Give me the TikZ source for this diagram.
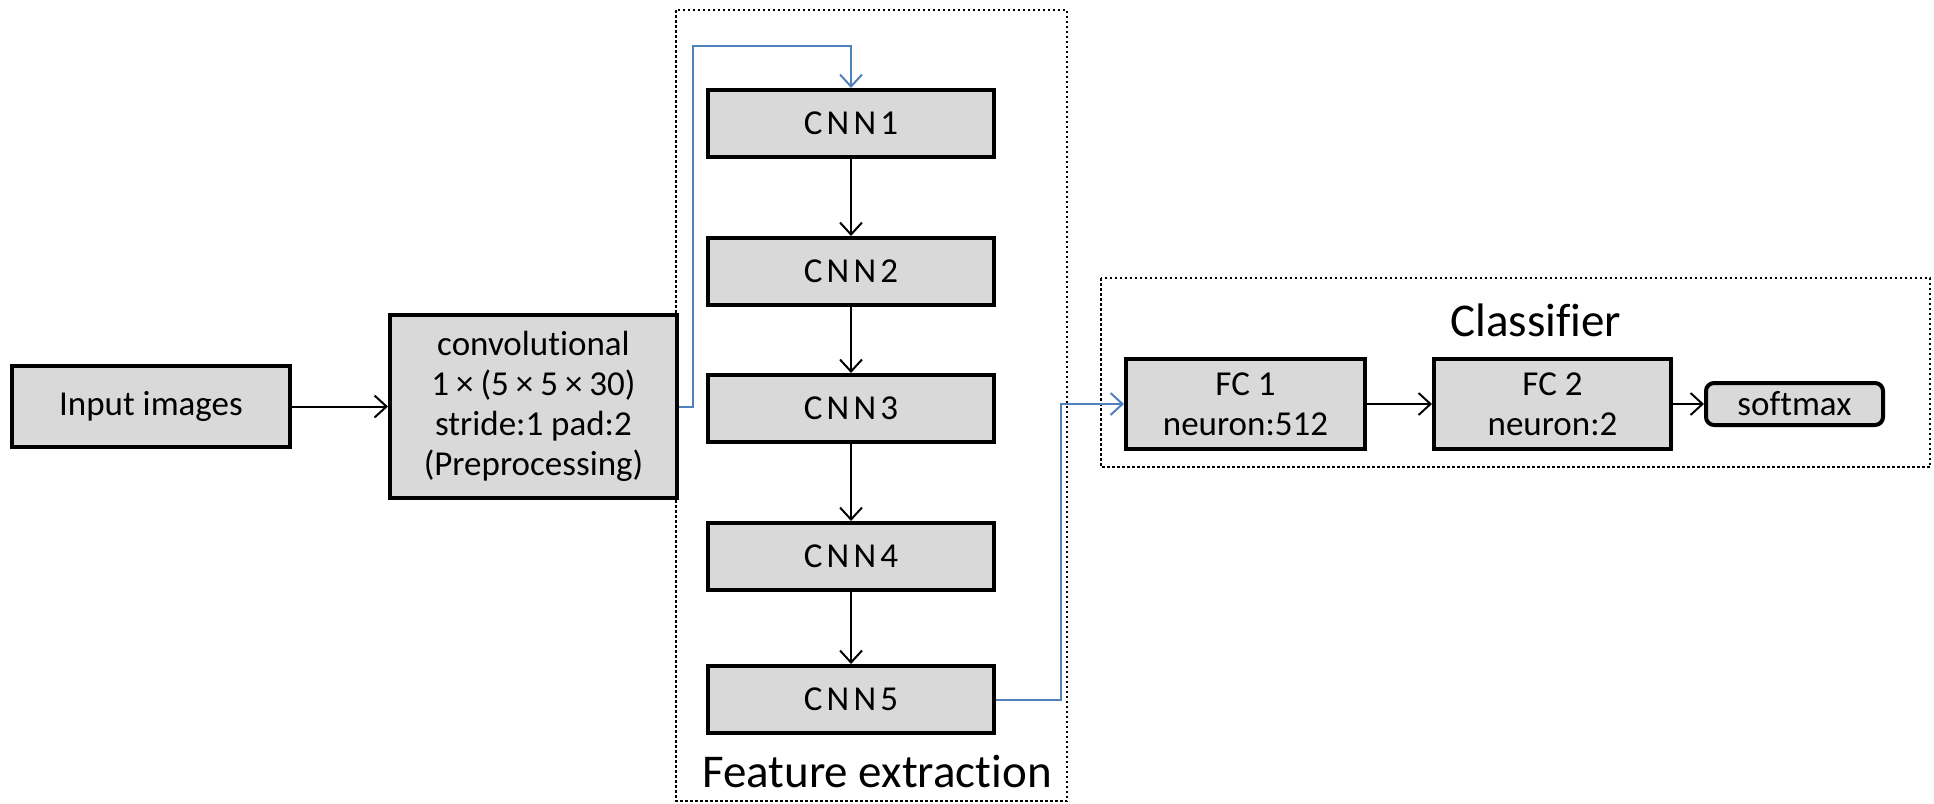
\documentclass[tikz,border=0pt]{standalone}
\usepackage{fontspec}
\setmainfont[Ligatures=NoCommon]{Carlito}
\usetikzlibrary{arrows.meta}
\definecolor{boxgray}{HTML}{D9D9D9}
\definecolor{linkblue}{HTML}{4F81BD}
\newcommand{\tms}{\hspace{7pt}×\hspace{7pt}}
\tikzset{
  blk/.style={draw=black, fill=boxgray, line width=4pt, inner sep=0pt, font=\fontsize{35}{40}\selectfont, align=center},
  cnnblk/.style={blk, minimum width=286pt, minimum height=67pt, font=\fontsize{35}{40}\selectfont\addfontfeature{LetterSpace=12}},
  arr/.style={line width=2pt, -{Straight Barb[length=12pt,width=22pt,line width=2pt]}},
  barr/.style={arr, draw=linkblue},
  group/.style={draw=black, line width=2.5pt, dash pattern=on 2.5pt off 2.5pt},
  title/.style={font=\fontsize{47}{52}\selectfont, inner sep=0pt}
}
\begin{document}
\begin{tikzpicture}[x=1pt,y=-1pt]
\useasboundingbox (0,0) rectangle (1934,803);
\draw[group] (676,10) rectangle (1067,801);
\draw[group] (1101,278) rectangle (1930,467);
\node[title] (fe) at (877,771) {Feature extraction};
\node[title] (cl) at (1536,320) {Classifier};

\node[blk, minimum width=278pt, minimum height=81pt] (in) at (151,406.5) {Input images};
\node[blk, minimum width=287pt, minimum height=183pt] (conv) at (533.5,406.5) {convolutional\\1\tms(5\tms5\tms30)\\stride:1 pad:2\\(Preprocessing)};
\foreach \i/\y in {1/123.5,2/271.5,3/408.5,4/556.5,5/699.5}
  \node[cnnblk] (cnn\i) at (851,\y) {CNN\i};
\node[blk, minimum width=239pt, minimum height=90pt] (fc1) at (1245.5,404) {FC 1\\neuron:512};
\node[blk, minimum width=237pt, minimum height=90pt] (fc2) at (1552.5,404) {FC 2\\neuron:2};
\node[blk, minimum width=177pt, minimum height=42pt, rounded corners=8pt] (sm) at (1794.5,404) {softmax};

\coordinate (b1) at (693,46);
\coordinate (b2) at (1061,404);
\draw[arr] (in) -- (conv);
\draw[barr] (conv.east) -| (b1) -| (cnn1.north);
\draw[arr] (cnn1) -- (cnn2);
\draw[arr] (cnn2) -- (cnn3);
\draw[arr] (cnn3) -- (cnn4);
\draw[arr] (cnn4) -- (cnn5);
\draw[barr] (cnn5.east) -| (b2) -- (fc1.west);
\draw[arr] (fc1) -- (fc2);
\draw[arr] (fc2) -- (sm);
\end{tikzpicture}
\end{document}
